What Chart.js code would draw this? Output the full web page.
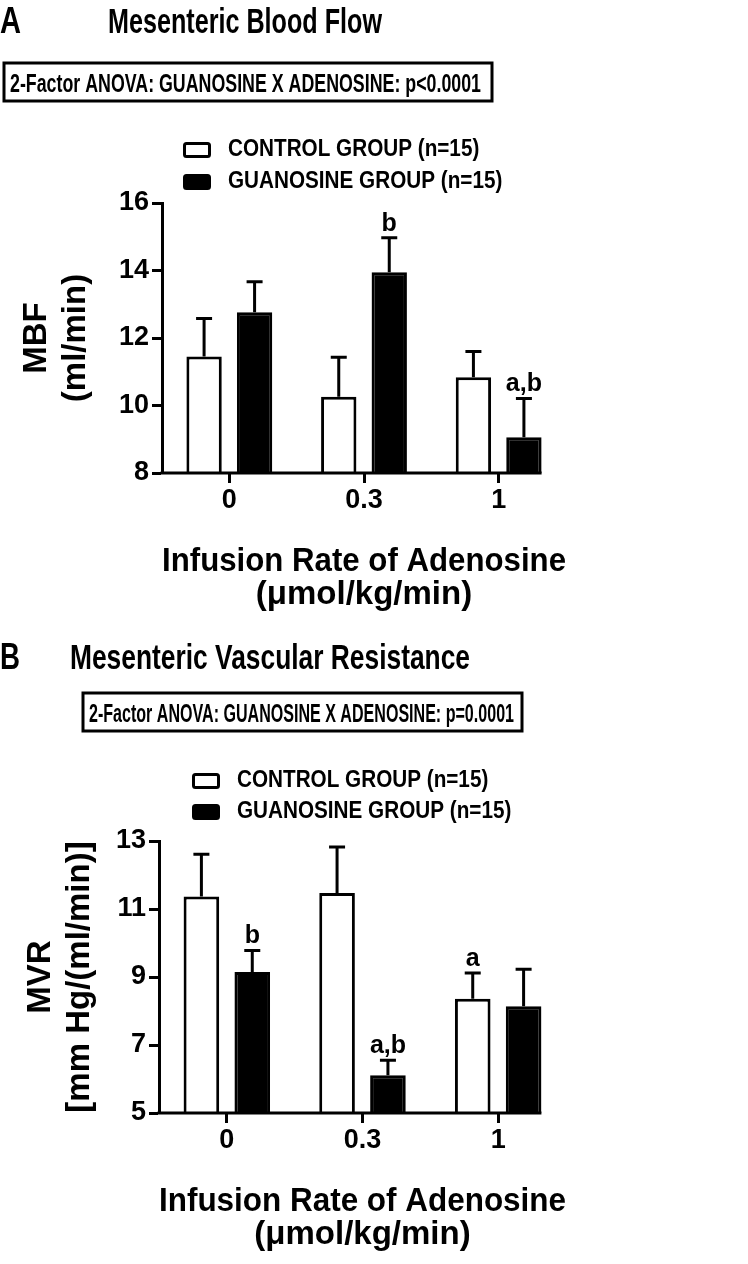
<!DOCTYPE html>
<html>
<head>
<meta charset="utf-8">
<script src="https://cdn.jsdelivr.net/npm/chart.js@4.4.1/dist/chart.umd.min.js"></script>
<style>
body { margin: 0; background: #fff; }
canvas { display: block; }
</style>
</head>
<body>
<canvas id="chartA" width="748" height="620"></canvas>
<canvas id="chartB" width="748" height="644"></canvas>
<script>
// adenosine infusion rate (umol/kg/min) = x categories
var rates = ['0', '0.3', '1']
var seriesNames = ['CONTROL GROUP (n=15)', 'GUANOSINE GROUP (n=15)']

// A: mesenteric blood flow, ml/min (mean, SEM)
var mbfControl = [11.45, 10.26, 10.84]
var mbfControlSem = [1.13, 1.17, 0.76]
var mbfGuanosine = [12.76, 13.95, 9.06]
var mbfGuanosineSem = [0.91, 1.02, 1.15]
var mbfControlSig = ['', '', '']
var mbfGuanosineSig = ['', 'b', 'a,b']
var mbfAxis = [8, 16, 2]   // min, max, step

// B: mesenteric vascular resistance, mm Hg/(ml/min)
var mvrControl = [11.37, 11.47, 8.36]
var mvrControlSem = [1.24, 1.35, 0.76]
var mvrGuanosine = [9.15, 6.11, 8.14]
var mvrGuanosineSem = [0.63, 0.44, 1.09]
var mvrControlSig = ['', '', 'a']
var mvrGuanosineSig = ['b', 'a,b', '']
var mvrAxis = [5, 13, 2]

var FONT = "'Liberation Sans', Arial, sans-serif"
Chart.defaults.font.family = FONT
Chart.defaults.color = '#000'

// draw text squeezed to a given width (the figure uses a condensed face)
function fitText(ctx, text, x, y, size, width) {
    ctx.save()
    ctx.font = 'bold ' + size + 'px ' + FONT
    var w = ctx.measureText(text).width
    ctx.translate(x, y)
    ctx.scale(width ? width / w : 0.9, 1)
    ctx.fillText(text, 0, 0)
    ctx.restore()
}

var errorBars = {
    id: 'errorBars',
    afterDatasetsDraw: function(chart) {
        var ctx = chart.ctx
        var y = chart.scales.y
        var area = chart.chartArea
        ctx.save()
        ctx.strokeStyle = '#000'
        ctx.fillStyle = '#000'
        ctx.lineWidth = 3
        chart.data.datasets.forEach(function(ds, i) {
            chart.getDatasetMeta(i).data.forEach(function(bar, j) {
                var top = y.getPixelForValue(ds.data[j] + ds.sem[j])
                ctx.beginPath()
                ctx.moveTo(bar.x, bar.y)
                ctx.lineTo(bar.x, top)
                ctx.moveTo(bar.x - 8, top)
                ctx.lineTo(bar.x + 8, top)
                ctx.stroke()
                if (ds.sig[j]) {
                    ctx.font = 'bold 25px ' + FONT
                    ctx.textAlign = 'center'
                    ctx.textBaseline = 'alphabetic'
                    ctx.fillText(ds.sig[j], bar.x, top - 7)
                }
            })
        })
        // x axis line stops at the last bar
        var meta = chart.getDatasetMeta(chart.data.datasets.length - 1)
        var last = meta.data[meta.data.length - 1]
        ctx.beginPath()
        ctx.moveTo(area.left - 1.5, area.bottom)
        ctx.lineTo(last.x + last.width / 2, area.bottom)
        ctx.stroke()
        ctx.restore()
    }
}

function headerPlugin(h) {
    return {
        id: 'header',
        afterDraw: function(chart) {
            var ctx = chart.ctx
            ctx.save()
            ctx.fillStyle = '#000'
            ctx.strokeStyle = '#000'
            ctx.textBaseline = 'alphabetic'
            fitText(ctx, h.letter, 0, h.titleBase, 36, h.letterW)
            fitText(ctx, h.title, h.titleX, h.titleBase, 35, h.titleW)
            ctx.lineWidth = 3
            ctx.strokeRect(h.box[0], h.box[1], h.box[2], h.box[3])
            fitText(ctx, h.anova, h.box[0] + 6, h.anovaBase, 25, h.anovaW)

            // legend
            ctx.textBaseline = 'middle'
            chart.data.datasets.forEach(function(ds, i) {
                var cy = h.legY + i * h.legGap
                ctx.beginPath()
                ctx.roundRect(h.legX + 1.5, cy - 6.5, 25, 13, 2)
                ctx.fillStyle = ds.backgroundColor
                ctx.fill()
                ctx.stroke()
                ctx.fillStyle = '#000'
                fitText(ctx, ds.label, h.legX + 45, cy, 23, null)
            })
            ctx.restore()
        }
    }
}

function buildChart(id, p) {
    var ctx = document.getElementById(id).getContext('2d')
    return new Chart(ctx, {
        type: 'bar',
        data: {
            labels: rates,
            datasets: [{
                label: seriesNames[0],
                data: p.control, sem: p.controlSem, sig: p.controlSig,
                backgroundColor: '#fff', borderColor: '#000', borderWidth: 3
            }, {
                label: seriesNames[1],
                data: p.guan, sem: p.guanSem, sig: p.guanSig,
                backgroundColor: '#000', borderColor: '#000', borderWidth: 3
            }]
        },
        options: {
            responsive: false,
            animation: false,
            categoryPercentage: 0.75,
            barPercentage: 0.7,
            layout: { padding: { top: p.top, right: p.right, left: 0, bottom: 0 } },
            plugins: { legend: { display: false }, tooltip: { enabled: false } },
            scales: {
                x: {
                    grid: { drawOnChartArea: false, offset: false, tickLength: 10, tickWidth: 3, tickColor: '#000' },
                    border: { display: false },
                    ticks: { color: '#000', font: { size: 27, weight: 'bold' }, padding: 1 },
                    title: {
                        display: true,
                        text: ['Infusion Rate of Adenosine', '(\u03bcmol/kg/min)'],
                        color: '#000',
                        font: { size: 33, weight: 'bold', lineHeight: 1 },
                        padding: { top: 0, bottom: p.xTitlePad }
                    },
                    afterFit: function(s) { s.height = p.xHeight }
                },
                y: {
                    min: p.axis[0], max: p.axis[1],
                    ticks: { stepSize: p.axis[2], color: '#000', font: { size: 27, weight: 'bold' }, padding: 3 },
                    grid: { drawOnChartArea: false, tickLength: 10, tickWidth: 3, tickColor: '#000' },
                    border: { color: '#000', width: 3 },
                    title: {
                        display: true,
                        text: p.yTitle,
                        color: '#000',
                        font: { size: 33, weight: 'bold' },
                        padding: { top: p.yTitlePad, bottom: 0 }
                    },
                    afterFit: function(s) { s.width = p.yWidth }
                }
            }
        },
        plugins: [errorBars, headerPlugin(p.header)]
    })
}

buildChart('chartA', {
    control: mbfControl, controlSem: mbfControlSem, controlSig: mbfControlSig,
    guan: mbfGuanosine, guanSem: mbfGuanosineSem, guanSig: mbfGuanosineSig,
    axis: mbfAxis,
    yTitle: ['MBF', '(ml/min)'],
    top: 203, right: 182, yWidth: 162, xHeight: 147, xTitlePad: 9, yTitlePad: 17,
    header: {
        letter: 'A', letterW: 21, title: 'Mesenteric Blood Flow', titleX: 108, titleW: 274, titleBase: 33,
        box: [4, 63, 488, 38], anova: '2-Factor ANOVA: GUANOSINE X ADENOSINE: p<0.0001', anovaBase: 92, anovaW: 471,
        legX: 183, legY: 150, legGap: 32
    }
})

buildChart('chartB', {
    control: mvrControl, controlSem: mvrControlSem, controlSig: mvrControlSig,
    guan: mvrGuanosine, guanSem: mvrGuanosineSem, guanSig: mvrGuanosineSig,
    axis: mvrAxis,
    yTitle: ['MVR', '[mm Hg/(ml/min)]'],
    top: 221, right: 182, yWidth: 159, xHeight: 151, xTitlePad: 13, yTitlePad: 21,
    header: {
        letter: 'B', letterW: 20, title: 'Mesenteric Vascular Resistance', titleX: 70, titleW: 400, titleBase: 49,
        box: [83, 73, 439, 38], anova: '2-Factor ANOVA: GUANOSINE X ADENOSINE: p=0.0001', anovaBase: 102, anovaW: 425,
        legX: 192, legY: 161, legGap: 31
    }
})
</script>
</body>
</html>
